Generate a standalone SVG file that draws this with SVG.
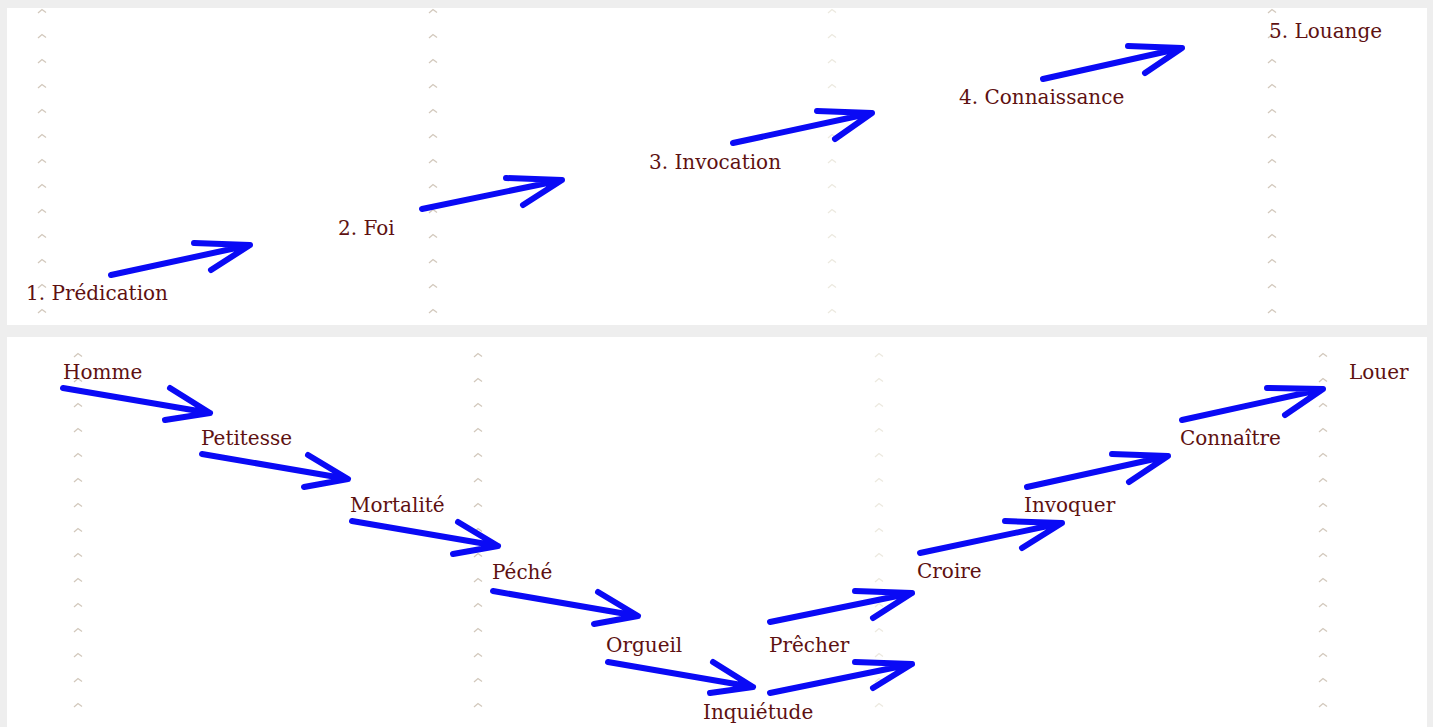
<svg xmlns="http://www.w3.org/2000/svg" width="1433" height="727" viewBox="0 0 1433 727">
<style>
.lbl{font-family:"DejaVu Serif","Liberation Serif",serif;font-size:20px;fill:#5e1111}
.arr{fill:none;stroke:#0a0af5;stroke-width:6;stroke-linecap:round;stroke-linejoin:round}
.ct{fill:none;stroke:#d2c8bc;stroke-width:1.3}
.cf{fill:none;stroke:#ece9df;stroke-width:1.3}
</style>
<defs>
<path id="car" d="M-4,2 L0,-1.5 L4,1.5"/>
<pattern id="pTop" patternUnits="userSpaceOnUse" x="0" y="-1" width="1433" height="25">
<use href="#car" x="42" y="12" class="ct"/>
<use href="#car" x="433" y="12" class="ct"/>
<use href="#car" x="832" y="12" class="cf"/>
<use href="#car" x="1272" y="12" class="ct"/>
</pattern>
<pattern id="pBot" patternUnits="userSpaceOnUse" x="0" y="-7" width="1433" height="25">
<use href="#car" x="78" y="12" class="ct"/>
<use href="#car" x="478" y="12" class="ct"/>
<use href="#car" x="879" y="12" class="cf"/>
<use href="#car" x="1323" y="12" class="ct"/>
</pattern>
</defs>
<rect x="0" y="0" width="1433" height="727" fill="#eeeeee"/>
<rect x="7" y="8" width="1420" height="317" fill="#ffffff"/>
<rect x="7" y="337" width="1420" height="390" fill="#ffffff"/>
<rect x="7" y="8" width="1420" height="317" fill="url(#pTop)"/>
<rect x="7" y="337" width="1420" height="390" fill="url(#pBot)"/>
<g id="connectors" class="arr">
<path d="M111,275 L250,245 M194,243 L250,245 L211,270"/>
<path d="M422,209 L562,180 M506,178 L562,180 L523,205"/>
<path d="M733,143 L872,113 M817,111 L872,113 L835,139"/>
<path d="M1043,79 L1182,48 M1128,46 L1182,48 L1145,73"/>
<path d="M63,388 L210,413 M170,388 L210,413 L165,420"/>
<path d="M202,454 L348,479 M308,455 L348,479 L304,487"/>
<path d="M352,521 L498,546 M458,522 L498,546 L453,554"/>
<path d="M493,591 L638,616 M598,592 L638,616 L594,624"/>
<path d="M608,662 L753,687 M713,662 L753,687 L710,693"/>
<path d="M770,693 L912,664 M855,662 L912,664 L873,688"/>
<path d="M770,622 L912,593 M855,591 L912,593 L873,618"/>
<path d="M920,553 L1062,523 M1005,521 L1062,523 L1022,548"/>
<path d="M1027,487 L1168,456 M1112,454 L1168,456 L1129,482"/>
<path d="M1182,420 L1323,389 M1267,388 L1323,389 L1285,415"/>
</g>
<g id="n-predication"><text class="lbl" x="26" y="300">1. Prédication</text></g>
<g id="n-foi"><text class="lbl" x="338" y="235">2. Foi</text></g>
<g id="n-invocation"><text class="lbl" x="649" y="169">3. Invocation</text></g>
<g id="n-connaissance"><text class="lbl" x="959" y="104">4. Connaissance</text></g>
<g id="n-louange"><text class="lbl" x="1269" y="38">5. Louange</text></g>
<g id="n-homme"><text class="lbl" x="63" y="379">Homme</text></g>
<g id="n-petitesse"><text class="lbl" x="201" y="445">Petitesse</text></g>
<g id="n-mortalite"><text class="lbl" x="350" y="512">Mortalité</text></g>
<g id="n-peche"><text class="lbl" x="492" y="579">Péché</text></g>
<g id="n-orgueil"><text class="lbl" x="606" y="652">Orgueil</text></g>
<g id="n-inquietude"><text class="lbl" x="703" y="719">Inquiétude</text></g>
<g id="n-precher"><text class="lbl" x="769" y="652">Prêcher</text></g>
<g id="n-croire"><text class="lbl" x="917" y="578">Croire</text></g>
<g id="n-invoquer"><text class="lbl" x="1024" y="512">Invoquer</text></g>
<g id="n-connaitre"><text class="lbl" x="1180" y="445">Connaître</text></g>
<g id="n-louer"><text class="lbl" x="1349" y="379">Louer</text></g>
</svg>
